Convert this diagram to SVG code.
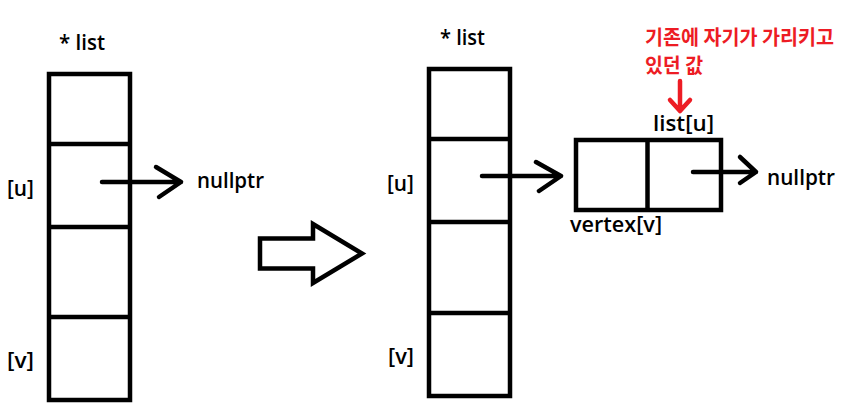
<svg xmlns="http://www.w3.org/2000/svg" width="849" height="415" viewBox="0 0 849 415">
<style>
.box{fill:none;stroke:#000;stroke-width:4.5}
.ln{fill:none;stroke:#000;stroke-width:4.5;stroke-linecap:round;stroke-linejoin:round}
.red{fill:none;stroke:#ED1C24;stroke-width:4.5;stroke-linecap:round;stroke-linejoin:round}
.t{font-family:"Open Sans","Noto Sans","Noto Sans CJK KR",sans-serif;font-size:21px;font-weight:600;fill:#000}
.k{font-family:"Noto Sans CJK KR",sans-serif;font-size:20.5px;fill:#ED1C24;font-weight:700}
</style>
<rect width="849" height="415" fill="#fff"/>
<g id="left-array">
<rect class="box" x="49" y="74" width="81" height="326"/>
<line class="box" x1="49" y1="144" x2="130" y2="144"/>
<line class="box" x1="49" y1="227" x2="130" y2="227"/>
<line class="box" x1="49" y1="317" x2="130" y2="317"/>
<text class="t" x="59" y="50" textLength="46" lengthAdjust="spacingAndGlyphs">* list</text>
<text class="t" x="7" y="196" textLength="27" lengthAdjust="spacingAndGlyphs">[u]</text>
<text class="t" x="7" y="368" textLength="27" lengthAdjust="spacingAndGlyphs">[v]</text>
</g>
<g id="left-null"><text class="t" x="197" y="188" textLength="67" lengthAdjust="spacingAndGlyphs">nullptr</text></g>
<g id="transition">
<polygon class="box" points="260,238.5 313,238.5 313,224 362,253.5 313,283 313,268.5 260,268.5"/>
</g>
<g id="right-array">
<rect class="box" x="429" y="69" width="81" height="327"/>
<line class="box" x1="429" y1="139" x2="510" y2="139"/>
<line class="box" x1="429" y1="222" x2="510" y2="222"/>
<line class="box" x1="429" y1="313" x2="510" y2="313"/>
<text class="t" x="440" y="45" textLength="45" lengthAdjust="spacingAndGlyphs">* list</text>
<text class="t" x="387" y="191" textLength="27" lengthAdjust="spacingAndGlyphs">[u]</text>
<text class="t" x="388" y="364" textLength="26" lengthAdjust="spacingAndGlyphs">[v]</text>
</g>
<g id="vertex-node">
<rect class="box" x="576" y="140" width="145" height="70"/>
<line class="box" x1="647.5" y1="140" x2="647.5" y2="210"/>
<text class="t" x="570" y="232" textLength="92" lengthAdjust="spacingAndGlyphs">vertex[v]</text>
<text class="t" x="653" y="131" textLength="61" lengthAdjust="spacingAndGlyphs">list[u]</text>
</g>
<g id="right-null"><text class="t" x="767" y="185" textLength="68" lengthAdjust="spacingAndGlyphs">nullptr</text></g>
<g id="note">
<text class="k" x="645" y="45" textLength="189" lengthAdjust="spacingAndGlyphs">기존에 자기가 가리키고</text>
<text class="k" x="645" y="73" textLength="58" lengthAdjust="spacingAndGlyphs">있던 값</text>
</g>
<g id="connectors">
<path class="ln" d="M102,182 H181 M156,167 L181,182 L159,197"/>
<path class="ln" d="M482,176 H561 M536,162 L561,176 L539,191"/>
<path class="ln" d="M693,172 H756 M740,157 L756,172 L740,183"/>
<path class="red" d="M680,81 V111 M670,100 L680,111 L690,100"/>
</g>
</svg>
